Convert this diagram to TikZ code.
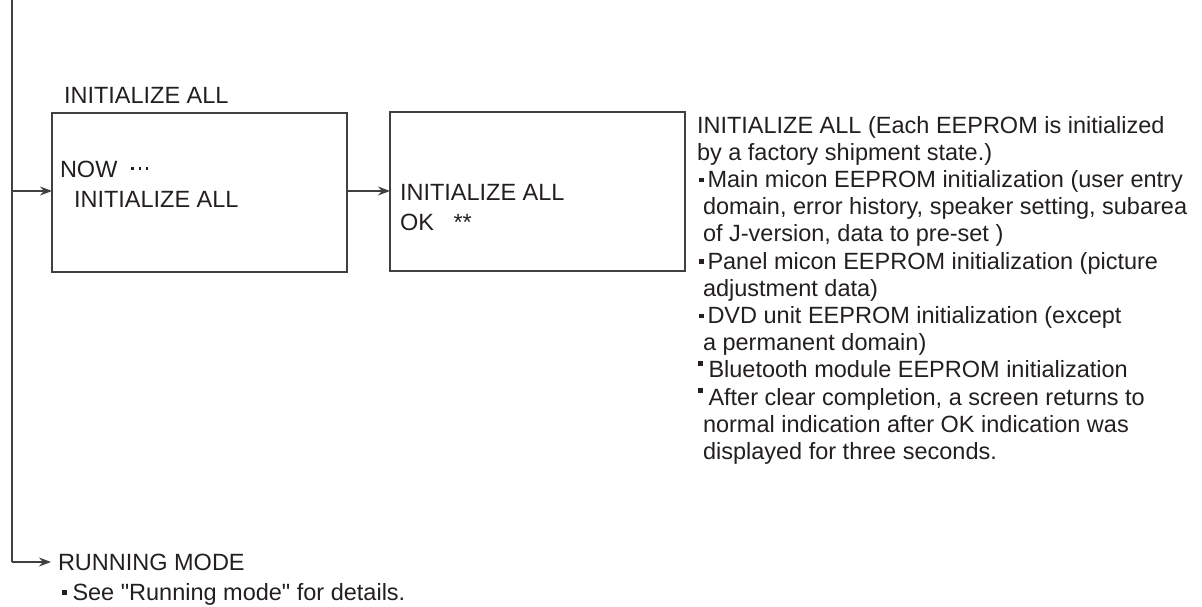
\documentclass[tikz,border=0pt]{standalone}
\usepackage{fontspec}
\setmainfont{Liberation Sans}
\usetikzlibrary{arrows.meta}
\definecolor{ink}{HTML}{231F20}
\definecolor{wire}{HTML}{404040}
\newcommand\sqb{\raisebox{0.22em}{\rule{4.5pt}{4.5pt}}}
\newcommand\sqh{\raisebox{0.52em}{\rule{4.5pt}{4.5pt}}}
\newcommand\bigdot{\raisebox{0.3em}{\rule{2.6pt}{2.6pt}}}
\begin{document}
\begin{tikzpicture}[x=1pt,y=-1pt,
  every node/.style={inner sep=0pt,outer sep=0pt,text=ink,font=\fontsize{23.5}{27.2}\selectfont},
  txt/.style={anchor=base west},
  blk/.style={anchor=north west,align=left},
  wirebox/.style={draw=wire,line width=1.4pt,minimum width=295pt,minimum height=159pt,anchor=north west},
  conn/.style={draw=wire,line width=1.4pt,-{Stealth[length=12pt,width=9pt]}}]
\useasboundingbox (0,0) rectangle (1202,606);
% boxes
\node[wirebox] (b1) at (52,113) {};
\node[wirebox] (b2) at (390,112) {};
% trunk
\coordinate (top) at (12,0);
\coordinate (j1) at (12,191);
\coordinate (bot) at (12,562);
\coordinate (rmtip) at (51,562);
\draw[draw=wire,line width=1.4pt] (top) -- (bot);
\draw[conn] (j1) -- (j1 -| b1.west);
\draw[conn] (b1.east |- j1) -- (b2.west |- j1);
% labels
\node[txt] (t0) at (64,103) {INITIALIZE ALL};
\node[txt] (t1) at (60,177) {NOW\hspace*{14pt}\bigdot\hspace*{4.5pt}\bigdot\hspace*{4.5pt}\bigdot};
\node[txt] (t2) at (74,207) {INITIALIZE ALL};
\node[txt] (t3) at (400,200) {INITIALIZE ALL};
\node[txt] (t4) at (400,230) {OK \ \ **};
\node[blk] (desc) at (697,116) {INITIALIZE ALL (Each EEPROM is initialized\\
by a factory shipment state.)\\
\hspace*{2pt}\sqb\hspace*{4pt}Main micon EEPROM initialization (user entry\\
\hspace*{6pt}domain, error history, speaker setting, subarea\\
\hspace*{6pt}of J-version, data to pre-set )\\
\hspace*{2pt}\sqb\hspace*{4pt}Panel micon EEPROM initialization (picture\\
\hspace*{6pt}adjustment data)\\
\hspace*{2pt}\sqb\hspace*{4pt}DVD unit EEPROM initialization (except\\
\hspace*{6pt}a permanent domain)\\
\hspace*{1pt}\sqh\hspace*{6pt}Bluetooth module EEPROM initialization\\
\hspace*{1pt}\sqh\hspace*{6pt}After clear completion, a screen returns to\\
\hspace*{6pt}normal indication after OK indication was\\
\hspace*{6pt}displayed for three seconds.};
% running mode
\node[txt] (rm) at (58,570) {RUNNING MODE};
\node[txt] (rd) at (62,600) {\sqb\hspace*{6pt}See \textquotedbl Running mode\textquotedbl{} for details.};
\draw[conn] (bot) -- (rmtip);
\end{tikzpicture}
\end{document}
